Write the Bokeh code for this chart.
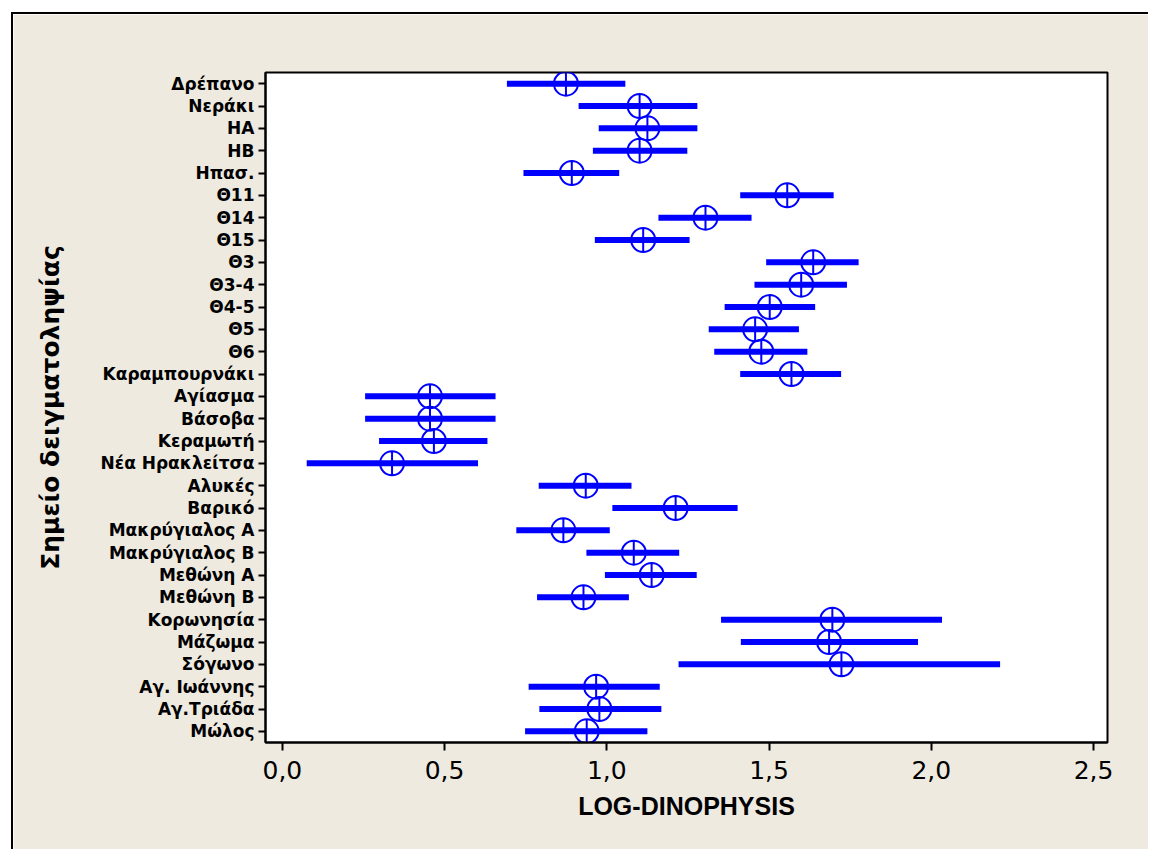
from bokeh.plotting import figure
from bokeh.models import FactorRange, Range1d, FixedTicker, ColumnDataSource
from bokeh.embed import file_html
from bokeh.resources import INLINE

sites = ["Δρέπανο", "Νεράκι", "HA", "HB", "Ηπασ.", "Θ11", "Θ14", "Θ15", "Θ3", "Θ3-4",
         "Θ4-5", "Θ5", "Θ6", "Καραμπουρνάκι", "Αγίασμα", "Βάσοβα", "Κεραμωτή",
         "Νέα Ηρακλείτσα", "Αλυκές", "Βαρικό", "Μακρύγιαλος Α", "Μακρύγιαλος Β",
         "Μεθώνη Α", "Μεθώνη Β", "Κορωνησία", "Μάζωμα", "Σόγωνο", "Αγ. Ιωάννης",
         "Αγ.Τριάδα", "Μώλος"]
means = [0.874, 1.101, 1.125, 1.101, 0.892, 1.556, 1.304, 1.112, 1.636, 1.599,
         1.502, 1.457, 1.476, 1.569, 0.455, 0.455, 0.467, 0.338, 0.935, 1.212,
         0.866, 1.083, 1.138, 0.928, 1.695, 1.685, 1.723, 0.967, 0.977, 0.938]
lows = [0.692, 0.913, 0.975, 0.957, 0.743, 1.411, 1.159, 0.963, 1.491, 1.455,
        1.363, 1.314, 1.331, 1.411, 0.255, 0.255, 0.298, 0.075, 0.790, 1.017,
        0.721, 0.937, 0.994, 0.785, 1.352, 1.413, 1.221, 0.759, 0.792, 0.748]
highs = [1.057, 1.279, 1.279, 1.248, 1.038, 1.699, 1.446, 1.255, 1.776, 1.740,
         1.642, 1.592, 1.618, 1.722, 0.657, 0.657, 0.632, 0.603, 1.076, 1.403,
         1.009, 1.223, 1.277, 1.068, 2.033, 1.959, 2.212, 1.163, 1.168, 1.125]
xticks = [0.0, 0.5, 1.0, 1.5, 2.0, 2.5]
xtick_labels = ["0,0", "0,5", "1,0", "1,5", "2,0", "2,5"]

BEIGE = "#EEEAE0"
BLUE = "#0000FF"

src = ColumnDataSource(dict(site=sites, mean=means, low=lows, high=highs))

p = figure(width=1137, height=837, output_backend="svg", toolbar_location=None,
           y_range=FactorRange(factors=list(reversed(sites)), range_padding=0),
           x_range=Range1d(-0.052, 2.543),
           min_border_left=252, min_border_top=58, min_border_right=43, min_border_bottom=109,
           margin=(12, 0, 0, 11))
p.styles = {"border-top": "2px solid black", "border-left": "2px solid black"}
p.background_fill_color = "white"
p.border_fill_color = BEIGE
p.outline_line_color = "black"
p.outline_line_width = 2
p.grid.visible = False

p.segment(x0="low", y0="site", x1="high", y1="site", source=src,
          line_width=6, line_color=BLUE)
p.scatter(x="mean", y="site", source=src, marker="circle_cross", size=24,
          fill_alpha=0, line_color=BLUE, line_width=2)

xa = p.xaxis[0]
xa.ticker = FixedTicker(ticks=xticks)
xa.major_label_overrides = {t: l for t, l in zip(xticks, xtick_labels)}
xa.minor_tick_line_color = None
xa.major_tick_out = 8
xa.major_tick_in = 0
xa.major_tick_line_width = 2
xa.axis_line_width = 2
xa.major_label_text_font = "DejaVu Sans"
xa.major_label_text_font_size = "25px"
xa.major_label_text_color = "black"
xa.major_label_standoff = 10
xa.axis_label = "LOG-DINOPHYSIS"
xa.axis_label_text_font = "Liberation Sans"
xa.axis_label_text_font_style = "bold"
xa.axis_label_text_font_size = "25px"
xa.axis_label_text_color = "black"
xa.axis_label_standoff = 10

ya = p.yaxis[0]
ya.major_tick_out = 7
ya.major_tick_in = 0
ya.major_tick_line_width = 2
ya.axis_line_width = 2
ya.minor_tick_line_color = None
ya.major_label_text_font = "DejaVu Sans"
ya.major_label_text_font_style = "bold"
ya.major_label_text_font_size = "17px"
ya.major_label_text_color = "black"
ya.major_label_standoff = 4
ya.axis_label = "Σημείο δειγματοληψίας"
ya.axis_label_text_font = "DejaVu Sans"
ya.axis_label_text_font_style = "bold"
ya.axis_label_text_font_size = "25px"
ya.axis_label_text_color = "black"
ya.axis_label_standoff = 32

open("out.html", "w").write(file_html(p, INLINE))
